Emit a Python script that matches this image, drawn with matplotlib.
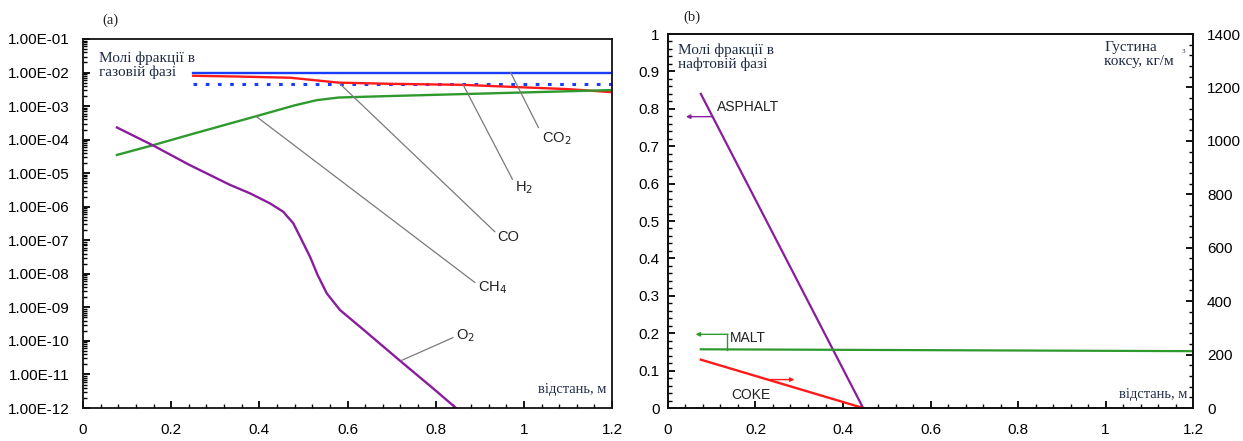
import numpy as np
import matplotlib
matplotlib.use('Agg')
import matplotlib.pyplot as plt
from matplotlib.ticker import LogLocator, MultipleLocator, FuncFormatter, NullFormatter

plt.rcParams['font.family'] = ['Liberation Sans', 'DejaVu Sans']

# ---------- panel (a): gas phase mole fractions ----------
co2_x = [0.25, 1.2]
co2_y = [1.0e-2, 1.0e-2]

co_x = [0.25, 1.2]
co_y = [4.7e-3, 4.7e-3]

h2_x = [0.25, 0.35, 0.47, 0.52, 0.58, 0.70, 0.86, 0.98, 1.10, 1.2]
h2_y = [8.0e-3, 7.6e-3, 7.0e-3, 6.0e-3, 5.0e-3, 4.6e-3, 4.3e-3, 3.7e-3, 3.2e-3, 2.6e-3]

ch4_x = [0.077, 0.16, 0.25, 0.393, 0.48, 0.53, 0.58, 0.70, 0.90, 1.2]
ch4_y = [3.5e-5, 6.9e-5, 1.5e-4, 5.0e-4, 1.05e-3, 1.5e-3, 1.8e-3, 2.0e-3, 2.35e-3, 3.0e-3]

o2_x = [0.077, 0.16, 0.24, 0.333, 0.379, 0.424, 0.454, 0.477, 0.496, 0.515,
        0.532, 0.553, 0.583, 0.632, 0.72, 0.80, 0.846]
o2_y = [2.3e-4, 6.6e-5, 1.8e-5, 4.5e-6, 2.5e-6, 1.26e-6, 7.1e-7, 3.2e-7, 1.02e-7,
        3.2e-8, 9.3e-9, 2.6e-9, 8.3e-10, 2.4e-10, 2.5e-11, 3.3e-12, 1.0e-12]

# leader labels: (text, line start, line end, text position)
labels_a = [
    ('CO$_2$', (0.970, 1.0e-2), (1.033, 2.3e-4), (1.040, 1.1e-4)),
    ('H$_2$', (0.862, 4.4e-3), (0.974, 6.6e-6), (0.980, 3.7e-6)),
    ('CO', (0.582, 4.7e-3), (0.934, 1.8e-7), (0.940, 1.25e-7)),
    ('CH$_4$', (0.392, 5.0e-4), (0.889, 5.5e-9), (0.895, 3.9e-9)),
    ('O$_2$', (0.722, 2.6e-11), (0.839, 1.25e-10), (0.845, 1.4e-10)),
]

# ---------- panel (b): oil phase mole fractions, coke density ----------
asphalt_x = [0.075, 0.446]
asphalt_y = [0.84, 0.0]

malt_x = [0.075, 1.2]
malt_y = [0.157, 0.152]

coke_x = [0.075, 0.446]
coke_y = [181, 0]

C_BLUE = '#1a3cff'
C_RED = '#ff1a1a'
C_GREEN = '#2e9a2e'
C_PURPLE = '#8a1d9e'
C_TEXT = '#1f2a44'
SERIF = ['Liberation Serif', 'DejaVu Serif']

fig = plt.figure(figsize=(12.43, 4.41), dpi=100)
ax1 = fig.add_axes([0.0668, 0.0748, 0.4256, 0.8368])
ax2 = fig.add_axes([0.5374, 0.0748, 0.4224, 0.8481])
ax2r = ax2.twinx()

# ---- panel (a)
ax1.plot(co2_x, co2_y, color=C_BLUE, lw=1.7)
ax1.plot(co_x, co_y, color=C_BLUE, lw=2.2, linestyle=(0, (1.2, 2.8)))
ax1.plot(h2_x, h2_y, color=C_RED, lw=1.7)
ax1.plot(ch4_x, ch4_y, color=C_GREEN, lw=1.7)
ax1.plot(o2_x, o2_y, color=C_PURPLE, lw=1.7)

for text, p0, p1, pt in labels_a:
    ax1.plot([p0[0], p1[0]], [p0[1], p1[1]], color='#7a7a7a', lw=0.9)
    ax1.text(pt[0], pt[1], text, fontsize=10.5, color='#222222', ha='left', va='center')

ax1.set_yscale('log')
ax1.set_xlim(0, 1.2)
ax1.set_ylim(1e-12, 1e-1)
ax1.xaxis.set_major_locator(MultipleLocator(0.2))
ax1.xaxis.set_minor_locator(MultipleLocator(0.04))
ax1.xaxis.set_major_formatter(FuncFormatter(lambda v, p: f'{v:g}'))
ax1.yaxis.set_major_locator(LogLocator(base=10, numticks=20))
ax1.yaxis.set_minor_locator(LogLocator(base=10, subs=np.arange(2, 10), numticks=20))
ax1.yaxis.set_minor_formatter(NullFormatter())
ax1.yaxis.set_major_formatter(FuncFormatter(lambda v, p: f'{v:.2E}'))

ax1.text(0.036, 4.3e-2, 'Молі фракції в\nгазовій фазі', family=SERIF, fontsize=11,
         color=C_TEXT, va='top', ha='left', linespacing=1.1)
ax1.text(1.188, 2.3e-12, 'відстань, м', family=SERIF, fontsize=10.5, color=C_TEXT,
         ha='right', va='bottom')
ax1.text(0.045, 3.5e-1, '(a)', family=SERIF, fontsize=10.5, color='#222222',
         ha='left', va='center', clip_on=False)

# ---- panel (b)
ax2.plot(asphalt_x, asphalt_y, color=C_PURPLE, lw=1.6)
ax2.plot(malt_x, malt_y, color=C_GREEN, lw=1.6)
ax2r.plot(coke_x, coke_y, color=C_RED, lw=1.7)

ax2.annotate('', xy=(0.041, 0.779), xytext=(0.101, 0.779),
             arrowprops=dict(arrowstyle='-|>', color=C_PURPLE, lw=1.0,
                             mutation_scale=6, shrinkA=0, shrinkB=0))
ax2.text(0.111, 0.805, 'ASPHALT', fontsize=10, color='#222222', ha='left', va='center')

ax2.plot([0.136, 0.136], [0.156, 0.197], color=C_GREEN, lw=1.0)
ax2.annotate('', xy=(0.063, 0.197), xytext=(0.137, 0.197),
             arrowprops=dict(arrowstyle='-|>', color=C_GREEN, lw=1.0,
                             mutation_scale=6, shrinkA=0, shrinkB=0))
ax2.text(0.141, 0.188, 'MALT', fontsize=10, color='#222222', ha='left', va='center')

ax2.annotate('', xy=(0.289, 0.076), xytext=(0.235, 0.076),
             arrowprops=dict(arrowstyle='-|>', color=C_RED, lw=1.0,
                             mutation_scale=6, shrinkA=0, shrinkB=0))
ax2.text(0.19, 0.034, 'COKE', fontsize=10, color='#222222', ha='center', va='center')

ax2.set_xlim(0, 1.2)
ax2.set_ylim(0, 1)
ax2r.set_ylim(0, 1400)
ax2.xaxis.set_major_locator(MultipleLocator(0.2))
ax2.xaxis.set_minor_locator(MultipleLocator(0.04))
ax2.xaxis.set_major_formatter(FuncFormatter(lambda v, p: f'{v:g}'))
ax2.yaxis.set_major_locator(MultipleLocator(0.1))
ax2.yaxis.set_minor_locator(MultipleLocator(0.02))
ax2.yaxis.set_major_formatter(FuncFormatter(lambda v, p: f'{v:g}'))
ax2r.yaxis.set_major_locator(MultipleLocator(200))
ax2r.yaxis.set_minor_locator(MultipleLocator(40))

ax2.text(0.023, 0.975, 'Молі фракції в\nнафтовій фазі', family=SERIF, fontsize=11,
         color=C_TEXT, va='top', ha='left', linespacing=1.1)
ax2.text(0.997, 0.982, 'Густина\nкоксу, кг/м', family=SERIF, fontsize=11,
         color=C_TEXT, va='top', ha='left', linespacing=1.1)
ax2.text(1.173, 0.952, '3', family=SERIF, fontsize=5, color=C_TEXT,
         va='center', ha='left')
ax2.text(1.188, 0.02, 'відстань, м', family=SERIF, fontsize=10.5, color=C_TEXT,
         ha='right', va='bottom')
ax2.text(0.035, 1.045, '(b)', family=SERIF, fontsize=10.5, color='#222222',
         ha='left', va='center', clip_on=False)

# ---- axis styling
for ax in (ax1, ax2, ax2r):
    for s in ax.spines.values():
        s.set_linewidth(1.3)
        s.set_color('#111111')

ax1.tick_params(axis='x', which='both', direction='in', top=False, labelsize=11, pad=11)
ax1.tick_params(axis='y', which='both', direction='in', right=False, labelsize=11, pad=10)
ax2.tick_params(axis='x', which='both', direction='in', top=False, labelsize=11, pad=11)
ax2.tick_params(axis='y', which='both', direction='in', right=False, labelsize=11, pad=6)
ax2r.tick_params(axis='y', which='both', direction='in', labelsize=11, pad=10)
for ax in (ax1, ax2, ax2r):
    ax.tick_params(which='major', length=5, width=1.3)
    ax.tick_params(which='minor', length=3, width=1.0)

fig.savefig('out.png', dpi=100)
